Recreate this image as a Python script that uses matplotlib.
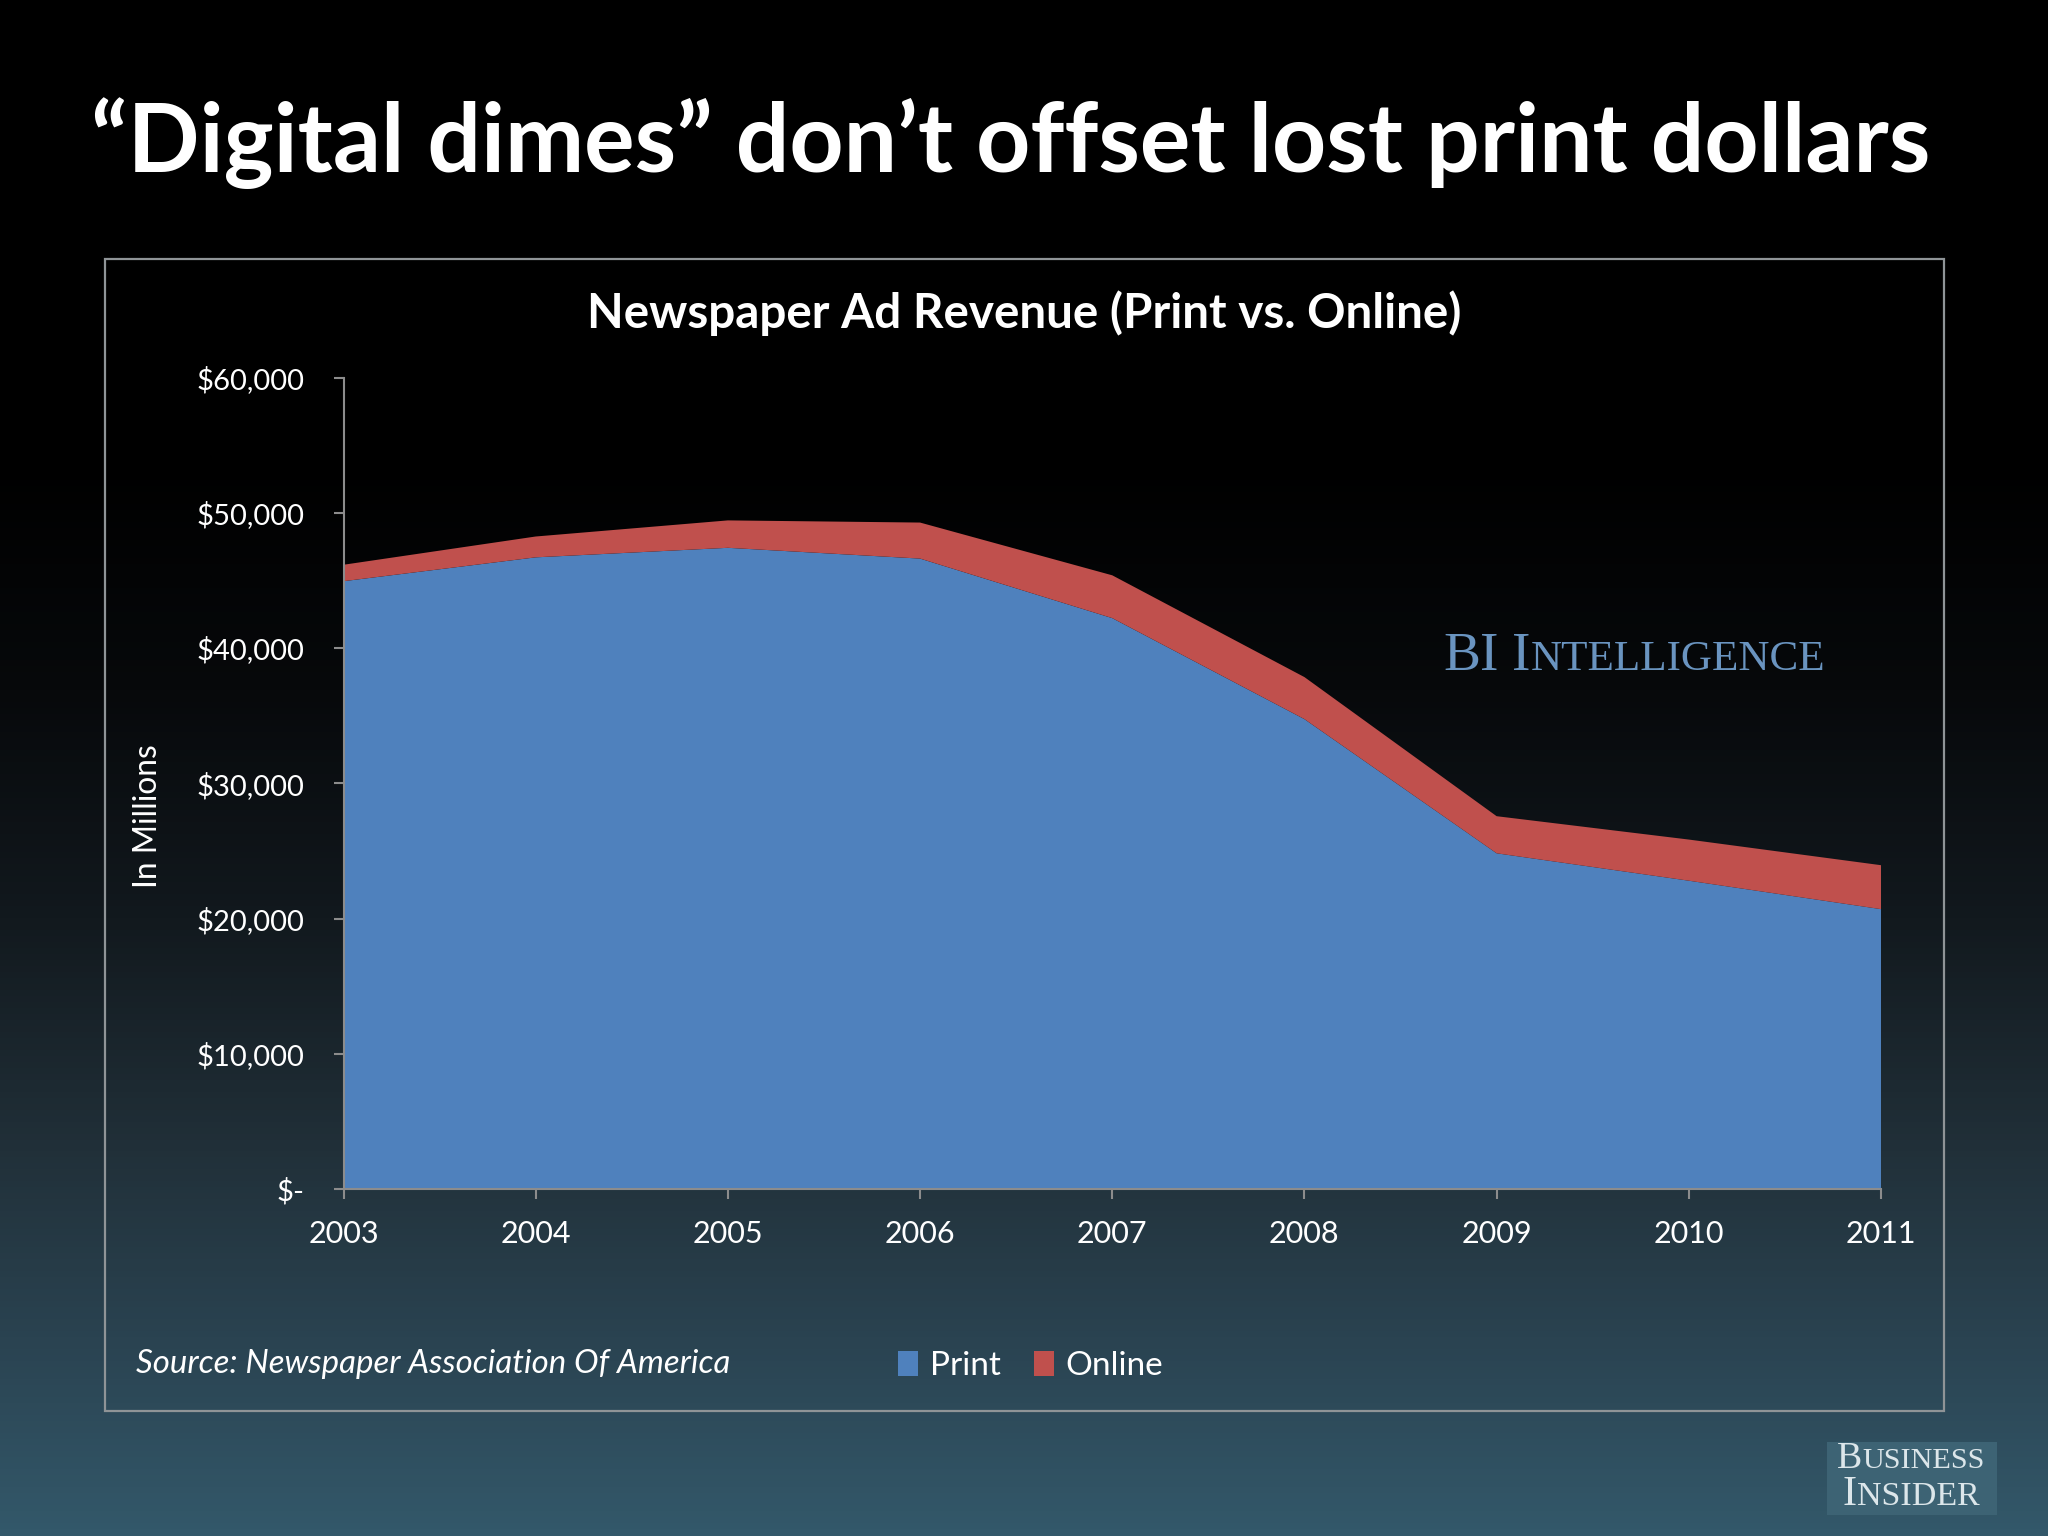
import matplotlib
matplotlib.use('Agg')
import matplotlib.pyplot as plt
import numpy as np
from matplotlib.colors import LinearSegmentedColormap
from matplotlib.patches import Rectangle
from matplotlib.ticker import FixedLocator, FixedFormatter

# ---------------- data ----------------
years = [2003, 2004, 2005, 2006, 2007, 2008, 2009, 2010, 2011]
print_rev = [44939, 46703, 47408, 46611, 42209, 34740, 24821, 22795, 20692]
online_rev = [1216, 1541, 2027, 2664, 3166, 3109, 2743, 3042, 3249]
series_names = ["Print", "Online"]
y_ticks = [0, 10000, 20000, 30000, 40000, 50000, 60000]
y_tick_labels = ["$-", "$10,000", "$20,000", "$30,000", "$40,000", "$50,000", "$60,000"]
x_tick_labels = [str(y) for y in years]

title = "\u201cDigital dimes\u201d don\u2019t offset lost print dollars"
chart_title = "Newspaper Ad Revenue (Print vs. Online)"
y_label = "In Millions"
source = "Source: Newspaper Association Of America"

BLUE = "#4F81BD"
RED = "#C0504D"
GREY = "#8c8c8c"

plt.rcParams['font.family'] = ['Lato', 'Open Sans', 'DejaVu Sans']
SERIF = ['Liberation Serif', 'DejaVu Serif']

W, H = 2048, 1536
fig = plt.figure(figsize=(W / 100, H / 100), dpi=100)

# ---------------- background gradient ----------------
bg = fig.add_axes([0, 0, 1, 1], zorder=-10)
bg.set_axis_off()
cmap = LinearSegmentedColormap.from_list(
    "bg",
    [(0.0, "#000000"), (0.30, "#000000"), (0.45, "#07090b"), (0.60, "#12191e"),
     (0.75, "#213039"), (0.90, "#2c4756"), (1.0, "#33586a")])
grad = np.linspace(0, 1, 512).reshape(-1, 1)
bg.imshow(grad, aspect='auto', cmap=cmap, extent=[0, 1, 1, 0], origin='upper')
bg.set_xlim(0, 1)
bg.set_ylim(1, 0)

# chart frame
fig.patches.append(Rectangle((104.5 / W, 1 - 1410.6 / H), (1943.5 - 104.5) / W,
                             (1410.6 - 258.6) / H, transform=fig.transFigure,
                             fill=False, edgecolor="#8f9497", linewidth=1.6, zorder=-5))

# ---------------- main axes ----------------
ax = fig.add_axes([343.5 / W, 1 - 1189 / H, (1881 - 343.5) / W, (1189 - 377.5) / H])
ax.patch.set_alpha(0)
polys = ax.stackplot(years, print_rev, online_rev, colors=[BLUE, RED],
                     labels=series_names, linewidth=0)
ax.set_xlim(years[0], years[-1])
ax.set_ylim(0, 60000)
for s in ['top', 'right']:
    ax.spines[s].set_visible(False)
for s in ['left', 'bottom']:
    ax.spines[s].set_color(GREY)
    ax.spines[s].set_linewidth(1.5)
ax.yaxis.set_major_locator(FixedLocator(y_ticks))
ax.yaxis.set_major_formatter(FixedFormatter(y_tick_labels))
ax.set_xticks(years)
ax.set_xticklabels(x_tick_labels)
ax.tick_params(axis='y', direction='out', length=7, width=1.5, color=GREY,
               labelcolor='white', labelsize=21, pad=21)
ax.tick_params(axis='x', direction='out', length=7, width=1.5, color=GREY,
               labelcolor='white', labelsize=22, pad=15)

# ---------------- texts ----------------
t_title = fig.text(1011 / W, 1 - 143 / H, title, color='white', fontweight='bold',
                   fontsize=60, ha='center', va='center')
t_chart = fig.text(1024.5 / W, 1 - 313 / H, chart_title, color='white', fontweight='bold',
                   fontsize=28, ha='center', va='center')
t_ylab = fig.text(147.6 / W, 1 - 816 / H, y_label, color='white', rotation=90,
                  fontsize=20, ha='center', va='center')
t_src = fig.text(136 / W, 1 - 1364 / H, source, color='white', style='italic',
                 fontsize=22, ha='left', va='center')

fig.canvas.draw()
r = fig.canvas.get_renderer()


def fit(t, target, use_height=False):
    bb = t.get_window_extent(r)
    w = bb.height if use_height else bb.width
    t.set_fontsize(t.get_fontsize() * target / w)


fit(t_title, 1839)
fit(t_chart, 877)
fit(t_ylab, 144, use_height=True)
fit(t_src, 593)

# legend
leg = fig.legend(handles=polys, labels=series_names, loc='center left',
                 bbox_to_anchor=(898 / W, 1 - 1366 / H), ncol=2, frameon=False,
                 fontsize=24, handlelength=0.6, handleheight=0.75, handletextpad=0.35,
                 columnspacing=1.0, borderpad=0, borderaxespad=0, labelcolor='white')


# ---------------- small-caps serif marks ----------------
def small_caps(pieces, x_left, baseline_y, target_w, color, base=30):
    def place(scale):
        made = []
        x = x_left
        for s, rel, gap in pieces:
            t = fig.text(x / W, 1 - baseline_y / H, s, family=SERIF, color=color,
                         fontsize=base * rel * scale, ha='left', va='baseline')
            made.append(t)
            x += t.get_window_extent(r).width + gap * scale
        return made, x - x_left
    made, w = place(1.0)
    for t in made:
        t.remove()
    made, w = place(target_w / w)
    return made


small_caps([("BI", 1.0, 14), ("I", 1.0, 0), ("NTELLIGENCE", 0.78, 0)],
           1443, 670, 383, "#6a94c0", base=40)

fig.patches.append(Rectangle((1827 / W, 1 - 1515 / H), 170 / W, 73 / H,
                             transform=fig.transFigure, facecolor="#3d6374",
                             edgecolor='none', zorder=-4))
small_caps([("B", 1.0, 0), ("USINESS", 0.8, 0)], 1837, 1468, 148, "#dce6ea", base=26)
small_caps([("I", 1.0, 0), ("NSIDER", 0.8, 0)], 1843, 1505, 137, "#dce6ea", base=26)

fig.savefig("out.png", dpi=100)
